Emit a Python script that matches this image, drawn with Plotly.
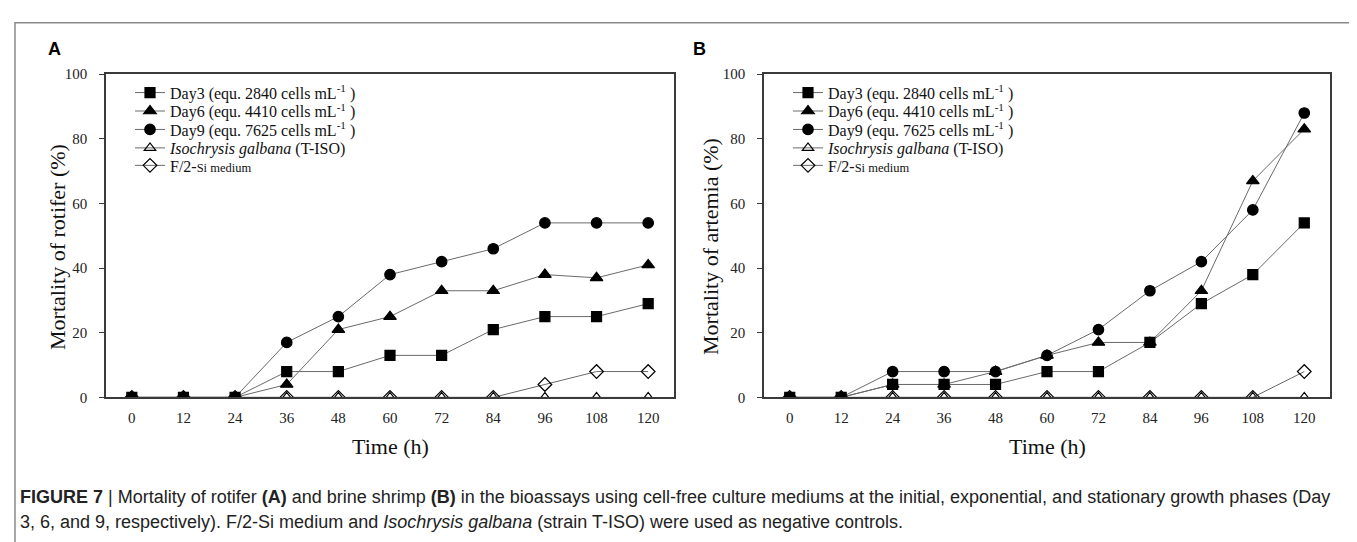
import plotly.graph_objects as go

W, H = 1357, 542

hours = [0, 12, 24, 36, 48, 60, 72, 84, 96, 108, 120]
tick_labels = [str(h) for h in hours]

# Panel A: rotifer mortality (%)
rot_day3 = [0, 0, 0, 8, 8, 13, 13, 21, 25, 25, 29]
rot_day6 = [0, 0, 0, 4, 21, 25, 33, 33, 38, 37, 41]
rot_day9 = [0, 0, 0, 17, 25, 38, 42, 46, 54, 54, 54]
rot_iso = [0, 0, 0, 0, 0, 0, 0, 0, 0, 0, 0]
rot_f2 = [0, 0, 0, 0, 0, 0, 0, 0, 4, 8, 8]

# Panel B: artemia mortality (%)
art_day3 = [0, 0, 4, 4, 4, 8, 8, 17, 29, 38, 54]
art_day6 = [0, 0, 4, 4, 8, 13, 17, 17, 33, 67, 83]
art_day9 = [0, 0, 8, 8, 8, 13, 21, 33, 42, 58, 88]
art_iso = [0, 0, 0, 0, 0, 0, 0, 0, 0, 0, 0]
art_f2 = [0, 0, 0, 0, 0, 0, 0, 0, 0, 0, 8]

series_names = [
    "Day3 (equ. 2840 cells mL<sup>-1</sup> )",
    "Day6 (equ. 4410 cells mL<sup>-1</sup> )",
    "Day9 (equ. 7625 cells mL<sup>-1</sup> )",
    "<i>Isochrysis galbana</i> (T-ISO)",
    "F/2-<span style=\"font-size:12.5px\">Si medium</span>",
]
y_titles = ["Mortality of rotifer (%)", "Mortality of artemia (%)"]
x_title = "Time (h)"
panel_labels = ["A", "B"]

SERIF = "Liberation Serif, Times New Roman, serif"
SANS = "Liberation Sans, Arial, sans-serif"

def px_x(p):
    return p / W

def px_y(p):
    return 1 - p / H

# plot area pixel geometry
A_L, A_R = 98, 666
B_L, B_R = 756, 1322
P_T, P_B = 60, 393

styles = [
    dict(symbol="square", size=10, color="#000000"),
    dict(symbol="triangle-up", size=11, color="#000000"),
    dict(symbol="circle", size=10.5, color="#000000"),
    dict(symbol="triangle-up-open", size=10, color="#000000"),
    dict(symbol="diamond-open", size=10.5, color="#000000"),
]

fig = go.Figure()

panels = [
    ("x", "y", [rot_day3, rot_day6, rot_day9, rot_iso, rot_f2], 0),
    ("x2", "y2", [art_day3, art_day6, art_day9, art_iso, art_f2], 5),
]

legend_rows = [79, 98, 117, 136, 154]
legend_left = [122, 780]

for pi, (xa, ya, data, loff) in enumerate(panels):
    # open controls first, filled series after, Day3 on top
    for si in [3, 4, 2, 1, 0]:
        st = styles[si]
        lg = "legend" if (loff + si) == 0 else f"legend{loff + si + 1}"
        fig.add_trace(go.Scatter(
            x=hours, y=data[si], xaxis=xa, yaxis=ya,
            mode="lines+markers", name=series_names[si],
            line=dict(color="#6a6a6a", width=1),
            marker=dict(symbol=st["symbol"], size=st["size"], color=st["color"],
                        line=dict(color="#000000", width=1.2)),
            legend=lg, showlegend=True,
        ))

legends = {}
for pi in range(2):
    for si in range(5):
        idx = pi * 5 + si
        key = "legend" if idx == 0 else f"legend{idx + 1}"
        legends[key] = dict(
            x=px_x(legend_left[pi]), xanchor="left",
            y=px_y(legend_rows[si]), yanchor="middle",
            bgcolor="rgba(0,0,0,0)", borderwidth=0,
            font=dict(family=SERIF, size=16, color="#111111"),
            itemclick=False, itemdoubleclick=False,
        )

axis_common = dict(
    showline=True, linecolor="#3a3a3a", linewidth=1.5, mirror=True,
    showgrid=False, zeroline=False,
    tickfont=dict(family=SERIF, size=15, color="#222222"),
)

fig.update_layout(
    width=W, height=H,
    margin=dict(l=0, r=0, t=0, b=0),
    paper_bgcolor="white", plot_bgcolor="white",
    xaxis=dict(domain=[px_x(A_L), px_x(A_R)], range=[-6, 126],
               tickvals=hours, ticktext=tick_labels, ticks="",
               ticklabelstandoff=6, anchor="y", **axis_common),
    yaxis=dict(domain=[px_y(P_B), px_y(P_T)], range=[0, 100],
               tickvals=[0, 20, 40, 60, 80, 100], ticks="outside", ticklen=5,
               tickcolor="#3a3a3a", ticklabelstandoff=9, anchor="x", **axis_common),
    xaxis2=dict(domain=[px_x(B_L), px_x(B_R)], range=[-6, 126],
                tickvals=hours, ticktext=tick_labels, ticks="",
                ticklabelstandoff=6, anchor="y2", **axis_common),
    yaxis2=dict(domain=[px_y(P_B), px_y(P_T)], range=[0, 100],
                tickvals=[0, 20, 40, 60, 80, 100], ticks="outside", ticklen=5,
                tickcolor="#3a3a3a", ticklabelstandoff=9, anchor="x2", **axis_common),
    **legends,
)

# outer frame
fig.add_shape(type="rect", xref="paper", yref="paper",
              x0=px_x(7), x1=px_x(1355), y0=-0.2, y1=px_y(7),
              line=dict(color="#8a8a8a", width=1.5), fillcolor="rgba(0,0,0,0)",
              layer="below")

ann = []
# axis titles
for cx, t in [((A_L + A_R) / 2, x_title), ((B_L + B_R) / 2, x_title)]:
    ann.append(dict(x=px_x(cx), y=px_y(444), xref="paper", yref="paper",
                    text=t, showarrow=False, xanchor="center", yanchor="middle",
                    font=dict(family=SERIF, size=22, color="#111111")))
for cx, t in [(50, y_titles[0]), (703, y_titles[1])]:
    ann.append(dict(x=px_x(cx), y=px_y(238), xref="paper", yref="paper",
                    text=t, showarrow=False, textangle=-90,
                    xanchor="center", yanchor="middle",
                    font=dict(family=SERIF, size=22, color="#111111")))
# panel labels
for lx, t in [(38, panel_labels[0]), (683, panel_labels[1])]:
    ann.append(dict(x=px_x(lx), y=px_y(34), xref="paper", yref="paper",
                    text=f"<b>{t}</b>", showarrow=False, xanchor="left", yanchor="middle",
                    font=dict(family=SANS, size=18, color="#000000")))
# caption
cap1 = ("<b>FIGURE 7</b> | Mortality of rotifer <b>(A)</b> and brine shrimp <b>(B)</b> in the bioassays "
        "using cell-free culture mediums at the initial, exponential, and stationary growth phases (Day")
cap2 = ("3, 6, and 9, respectively). F/2-Si medium and <i>Isochrysis galbana</i> (strain T-ISO) "
        "were used as negative controls.")
for yy, t in [(496, cap1), (521, cap2)]:
    ann.append(dict(x=px_x(10), y=px_y(yy), xref="paper", yref="paper",
                    text=t, showarrow=False, xanchor="left", yanchor="middle", align="left",
                    font=dict(family=SANS, size=18, color="#222222")))

fig.update_layout(annotations=ann)

fig.write_html("out.html")
